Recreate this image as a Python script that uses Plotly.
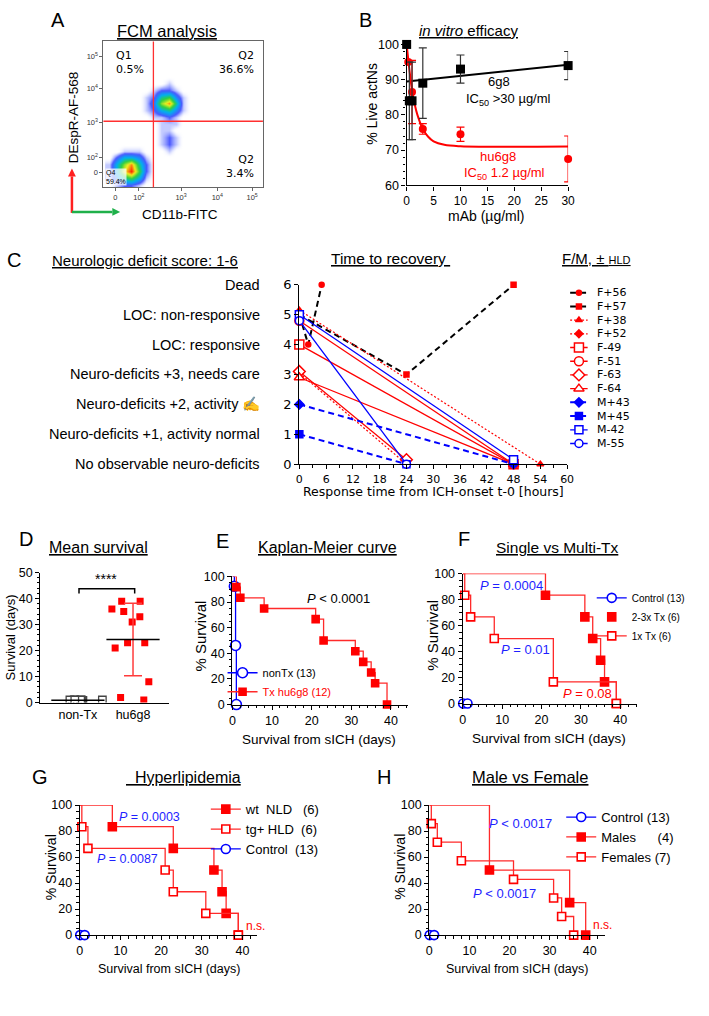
import numpy as np
import plotly.graph_objects as go

W, H = 709, 1016
ARIAL = 'Liberation Sans, Arial, sans-serif'
WIDE = 'DejaVu Sans, Verdana, sans-serif'
RED = '#ff0000'
KMRED = '#ff2a2a'
BLUE = '#0000ff'
PBLUE = '#1f1fff'

# ---------------- A: flow cytometry, decade units (10^2 -> 1, 10^3 -> 2 ...)
fcm_x = [0.2, 0.4, 0.6, 0.8, 1.0, 1.2, 1.4, 1.6, 1.8, 2.0, 2.2, 2.4, 2.6]
fcm_y = [0.2, 0.4, 0.6, 0.8, 1.0, 1.2, 1.4, 1.6, 1.8, 2.0, 2.2, 2.4, 2.6, 2.8, 3.0, 3.2, 3.4]
fcm_density = [
    [0, 1, 2, 2, 1, 0, 0, 0, 0, 0, 0, 0, 0],
    [1, 3, 5, 6, 4, 1, 0, 0, 0, 0, 0, 0, 0],
    [1, 4, 8, 10, 6, 2, 0, 0, 0, 0, 0, 0, 0],
    [1, 4, 7, 9, 5, 2, 0, 0, 0, 0, 0, 0, 0],
    [0, 2, 4, 4, 3, 1, 0, 0, 0, 0, 0, 0, 0],
    [0, 0, 1, 1, 1, 0, 0, 0, 1, 0, 0, 0, 0],
    [0, 0, 0, 0, 0, 0, 0, 1, 2, 1, 0, 0, 0],
    [0, 0, 0, 0, 0, 0, 0, 1, 2, 1, 0, 0, 0],
    [0, 0, 0, 0, 0, 0, 0, 1, 1, 0, 0, 0, 0],
    [0, 0, 0, 0, 0, 0, 0, 1, 1, 1, 0, 0, 0],
    [0, 0, 0, 0, 0, 0, 1, 1, 2, 1, 0, 0, 0],
    [0, 0, 0, 0, 0, 1, 2, 4, 5, 3, 1, 0, 0],
    [0, 0, 0, 0, 0, 1, 3, 7, 9, 5, 1, 0, 0],
    [0, 0, 0, 0, 0, 1, 2, 5, 6, 3, 1, 0, 0],
    [0, 0, 0, 0, 0, 0, 1, 2, 2, 1, 0, 0, 0],
    [0, 0, 0, 0, 0, 0, 0, 0, 1, 0, 0, 0, 0],
    [0, 0, 0, 0, 0, 0, 0, 0, 0, 0, 0, 0, 0],
]
fcm_gate_x = 1.39
fcm_gate_y = 2.08
fcm_xticks = [0.37, 1, 2.13, 3.1, 4.03]
fcm_yticks = [0.56, 1, 2.05, 3.04, 4.0]
fcm_ticktext = ['0', '10<sup>2</sup>', '10<sup>3</sup>', '10<sup>4</sup>', '10<sup>5</sup>']

# ---------------- B: in vitro efficacy
conc_6g8 = [0, 0.5, 1, 3, 10, 30]
live_6g8 = [100, 84, 84, 89, 93, 94]
err_6g8 = [0, 11, 11, 10, 4, 4]
conc_hu = [0, 0.3, 1, 3, 10, 30]
live_hu = [100, 95, 86.5, 76, 74.5, 67.5]
err_hu = [0, 0.5, 9, 1.5, 2, 6.5]
fit_6g8_x = [0, 30]
fit_6g8_y = [89.5, 94.2]
fit_hu_x = [0, 0.5, 1, 1.5, 2, 3, 4, 5, 7, 10, 30]
fit_hu_y = [100, 93, 87, 83, 80, 76, 73.8, 72.5, 71.5, 71.1, 71]

# ---------------- C: neurologic deficit score vs time
c_levels = ['No observable neuro-deficits', 'Neuro-deficits +1, activity normal',
            'Neuro-deficits +2, activity \u270d', 'Neuro-deficits +3, needs care',
            'LOC: responsive', 'LOC: non-responsive', 'Dead']
c_names = ['F+56', 'F+57', 'F+38', 'F+52', 'F-49', 'F-51', 'F-63', 'F-64',
           'M+43', 'M+45', 'M-42', 'M-55']
c_hours = [[0, 2, 5], [0, 24, 48], [0, 54], [0, 24], [0, 48], [0, 48], [0, 24], [0, 48],
           [0, 48], [0, 24], [0, 48], [0, 24]]
c_scores = [[5, 4, 6], [5, 3, 6], [5.15, 0], [3.05, 0], [4, 0], [4.8, 0], [3.1, 0.15], [2.9, 0],
            [2, 0], [1, 0], [5, 0.15], [4.8, 0]]

# ---------------- D-H: survival (days)
d_groups = ['non-Tx', 'hu6g8']
nontx_days = [0.5, 0.8, 0.8, 0.8, 0.8, 0.8, 0.8, 1.0, 1.0, 1.0, 1.0, 1.0, 1.0]
tx_days = [1, 2, 8, 21, 23, 23, 31, 33, 35, 36, 39, 39]
multi_days = [21, 31, 33, 35, 36, 39]
single_days = [0.5, 2, 8, 23, 23, 39]
nld_days = [8, 23, 33, 35, 36, 39]
hld_days = [0.5, 2, 21, 23, 31, 39]
male_days = [15, 15, 35, 39]
female_days = [0.5, 2, 8, 21, 31, 33, 36]
ctrl_days = [0.1, 1.2]
ctrl_surv = [0, 0]

# pixel boxes of the panels (left, right, top, bottom)
C_BOX = (300, 572, 282, 464)
CLEG_BOX = (575, 593, 283, 450)


def xd(a, b):
    return [a / W, b / W]


def yd(top, bottom):
    return [1 - bottom / H, 1 - top / H]


def label(x, y, s, size=13, color='black', anchor='center', angle=0, family=ARIAL, **kw):
    fig.add_annotation(x=x / W, y=1 - y / H, xref='paper', yref='paper', text=s, showarrow=False,
                       xanchor=anchor, yanchor='middle', textangle=angle,
                       font=dict(family=family, size=size, color=color), **kw)


def km(days):
    xs, ys = [0], [100.0]
    n, s = len(days), 100.0
    for t in sorted(set(days)):
        d = days.count(t)
        s = s * (n - d) / n
        n -= d
        xs.append(t)
        ys.append(s)
    return xs, ys


def add_km(days, ax, color, symbol, fill, name, legend, msize=8, lcolor=None, legmode='lines+markers'):
    xs, ys = km(days)
    lc = lcolor or color
    mk = dict(symbol=symbol, color=fill, line=dict(color=color, width=1.6))
    fig.add_trace(go.Scatter(x=xs, y=ys, mode='lines', line=dict(color=lc, width=1.3, shape='hv'),
                             xaxis='x' + ax, yaxis='y' + ax, showlegend=False, cliponaxis=False,
                             hoverinfo='skip'))
    fig.add_trace(go.Scatter(x=xs[1:], y=ys[1:], mode='markers', marker=dict(size=msize, **mk),
                             xaxis='x' + ax, yaxis='y' + ax, showlegend=False, cliponaxis=False))
    fig.add_trace(go.Scatter(x=[None], y=[None], mode=legmode, name=name, legend=legend,
                             line=dict(color=lc, width=1.3), marker=dict(size=msize, **mk),
                             xaxis='x' + ax, yaxis='y' + ax))


fig = go.Figure()

# ---- A
fcm_scale = [[0, 'rgba(255,255,255,0)'], [0.1, 'rgba(170,180,255,0.7)'], [0.2, '#4a58ff'],
             [0.4, '#00b0f0'], [0.6, '#30d040'], [0.8, '#f0f020'], [1, '#ff2000']]
fig.add_trace(go.Heatmap(x=fcm_x, y=fcm_y, z=fcm_density, zmin=0, zmax=10, zsmooth='best',
                         colorscale=fcm_scale, showscale=False, hoverinfo='skip', xaxis='x', yaxis='y'))
fig.add_shape(type='line', xref='x', yref='y domain', x0=fcm_gate_x, x1=fcm_gate_x, y0=0, y1=1,
              line=dict(color='#ff3030', width=1.3))
fig.add_shape(type='line', xref='x domain', yref='y', x0=0, x1=1, y0=fcm_gate_y, y1=fcm_gate_y,
              line=dict(color='#ff3030', width=1.3))

# ---- B
fig.add_trace(go.Scatter(x=fit_6g8_x, y=fit_6g8_y, mode='lines', line=dict(color='black', width=2),
                         xaxis='x2', yaxis='y2', showlegend=False))
fig.add_trace(go.Scatter(x=fit_hu_x, y=fit_hu_y, mode='lines', line=dict(color=RED, width=2, shape='spline'),
                         xaxis='x2', yaxis='y2', showlegend=False))
fig.add_trace(go.Scatter(x=conc_hu, y=live_hu, mode='markers', marker=dict(symbol='circle', size=8, color=RED),
                         error_y=dict(type='data', array=err_hu, color=RED, thickness=1.2, width=4),
                         xaxis='x2', yaxis='y2', showlegend=False, cliponaxis=False))
fig.add_trace(go.Scatter(x=conc_6g8, y=live_6g8, mode='markers', marker=dict(symbol='square', size=9, color='black'),
                         error_y=dict(type='data', array=err_6g8, color='#333', thickness=1.2, width=4),
                         xaxis='x2', yaxis='y2', showlegend=False, cliponaxis=False))

# ---- C
c_styles = [
    dict(lc='black', dash='6px,4px', lw=2, sym='circle', mc=RED, ml=RED, ms=5),
    dict(lc='black', dash='6px,4px', lw=2, sym='square', mc=RED, ml=RED, ms=5),
    dict(lc=RED, dash='2px,2px', lw=1.2, sym='triangle-up', mc=RED, ml=RED, ms=6),
    dict(lc=RED, dash='2px,2px', lw=1.2, sym='diamond', mc=RED, ml=RED, ms=6),
    dict(lc=RED, dash='solid', lw=1.3, sym='square', mc='white', ml=RED, ms=9),
    dict(lc=RED, dash='solid', lw=1.3, sym='circle', mc='white', ml=RED, ms=9),
    dict(lc=RED, dash='solid', lw=1.3, sym='diamond', mc='white', ml=RED, ms=9),
    dict(lc=RED, dash='solid', lw=1.3, sym='triangle-up', mc='white', ml=RED, ms=9),
    dict(lc=BLUE, dash='6px,4px', lw=2, sym='diamond', mc=BLUE, ml=BLUE, ms=7),
    dict(lc=BLUE, dash='6px,4px', lw=2, sym='square', mc=BLUE, ml=BLUE, ms=7),
    dict(lc=BLUE, dash='solid', lw=1.3, sym='square', mc='white', ml=BLUE, ms=8),
    dict(lc=BLUE, dash='solid', lw=1.3, sym='circle', mc='white', ml=BLUE, ms=8),
]
leg_row = (CLEG_BOX[3] - CLEG_BOX[2]) / len(c_names)
for i, name in enumerate(c_names):
    st = c_styles[i]
    mk = dict(symbol=st['sym'], size=st['ms'], color=st['mc'], line=dict(color=st['ml'], width=1.5))
    fig.add_trace(go.Scatter(x=c_hours[i], y=c_scores[i], mode='lines+markers', name=name,
                             line=dict(color=st['lc'], width=st['lw'], dash=st['dash']), marker=mk,
                             xaxis='x3', yaxis='y3', showlegend=False, cliponaxis=False))
    # hand-made legend row
    fig.add_trace(go.Scatter(x=[0, 1], y=[i, i], mode='lines', line=dict(color=st['lc'], width=st['lw'], dash=st['dash']),
                             xaxis='x9', yaxis='y9', showlegend=False, hoverinfo='skip'))
    fig.add_trace(go.Scatter(x=[0.5], y=[i], mode='markers', marker=mk,
                             xaxis='x9', yaxis='y9', showlegend=False, hoverinfo='skip'))
    label(600, CLEG_BOX[2] + (i + 0.5) * leg_row, name, size=11, anchor='left', family=WIDE)
c_step = (C_BOX[3] - C_BOX[2]) / (len(c_levels) - 1)
for lvl, txt in enumerate(c_levels):
    label(262, C_BOX[3] - lvl * c_step, txt, size=14.5, anchor='right')

# ---- D
fig.add_trace(go.Box(x=[0] * len(nontx_days), y=nontx_days, boxpoints='all', jitter=1, pointpos=0, width=1.4,
                     fillcolor='rgba(0,0,0,0)', line=dict(width=0, color='rgba(0,0,0,0)'),
                     marker=dict(symbol='square', size=7.5, color='white', line=dict(color='#444', width=1.3)),
                     xaxis='x4', yaxis='y4', showlegend=False))
fig.add_trace(go.Box(x=[1] * len(tx_days), y=tx_days, boxpoints='all', jitter=1, pointpos=0, width=1.25,
                     fillcolor='rgba(0,0,0,0)', line=dict(width=0, color='rgba(0,0,0,0)'),
                     marker=dict(symbol='square', size=7, color=RED),
                     xaxis='x4', yaxis='y4', showlegend=False))
fig.add_trace(go.Scatter(x=[1], y=[np.mean(tx_days)], mode='markers',
                         marker=dict(symbol='line-ew', size=38, line=dict(color='black', width=1.5)),
                         error_y=dict(type='data', array=[np.std(tx_days, ddof=1)], color='#ff3b3b', thickness=1.5, width=9),
                         xaxis='x4', yaxis='y4', showlegend=False))
fig.add_trace(go.Scatter(x=[0], y=[np.mean(nontx_days)], mode='markers',
                         marker=dict(symbol='line-ew', size=38, line=dict(color='black', width=1.5)),
                         xaxis='x4', yaxis='y4', showlegend=False, cliponaxis=False))
fig.add_shape(type='path', xref='x4', yref='y4', path='M 0.02,41.9 L 0.02,43.8 L 1.03,43.8 L 1.03,41.9',
              line=dict(color='black', width=1.5))
label(104, 581, '****', size=14)

# ---- E
add_km(nontx_days, '5', BLUE, 'circle', 'white', 'nonTx (13)', 'legend', msize=10)
add_km(tx_days, '5', RED, 'square', RED, '<span style="color:#ff0000">Tx hu6g8 (12)</span>', 'legend',
       msize=7, lcolor=KMRED)

# ---- F
fig.add_trace(go.Scatter(x=ctrl_days, y=ctrl_surv, mode='markers',
                         marker=dict(symbol='circle', size=9, color='white', line=dict(color=BLUE, width=1.6)),
                         xaxis='x6', yaxis='y6', cliponaxis=False, showlegend=False))
fig.add_trace(go.Scatter(x=[None], y=[None], mode='lines+markers', name='Control (13)', legend='legend2',
                         line=dict(color=BLUE, width=1.3),
                         marker=dict(symbol='circle', size=9, color='white', line=dict(color=BLUE, width=1.6)),
                         xaxis='x6', yaxis='y6'))
add_km(multi_days, '6', RED, 'square', RED, '2-3x Tx (6)', 'legend2', lcolor=KMRED, legmode='markers')
add_km(single_days, '6', RED, 'square', 'white', '1x Tx (6)', 'legend2', lcolor=KMRED)

# ---- G
add_km(nld_days, '7', RED, 'square', RED, 'wt\u00a0\u00a0NLD\u00a0\u00a0\u00a0(6)', 'legend3', lcolor=KMRED)
add_km(hld_days, '7', RED, 'square', 'white', 'tg+\u00a0HLD\u00a0\u00a0(6)', 'legend3', lcolor=KMRED)
fig.add_trace(go.Scatter(x=ctrl_days, y=ctrl_surv, mode='markers',
                         marker=dict(symbol='circle', size=9, color='white', line=dict(color=BLUE, width=1.6)),
                         xaxis='x7', yaxis='y7', cliponaxis=False, showlegend=False))
fig.add_trace(go.Scatter(x=[None], y=[None], mode='lines+markers', name='Control\u00a0\u00a0(13)', legend='legend3',
                         line=dict(color=BLUE, width=1.3),
                         marker=dict(symbol='circle', size=9, color='white', line=dict(color=BLUE, width=1.6)),
                         xaxis='x7', yaxis='y7'))

# ---- H
fig.add_trace(go.Scatter(x=ctrl_days, y=ctrl_surv, mode='markers',
                         marker=dict(symbol='circle', size=9, color='white', line=dict(color=BLUE, width=1.6)),
                         xaxis='x8', yaxis='y8', cliponaxis=False, showlegend=False))
fig.add_trace(go.Scatter(x=[None], y=[None], mode='lines+markers', name='Control (13)', legend='legend4',
                         line=dict(color=BLUE, width=1.3),
                         marker=dict(symbol='circle', size=9, color='white', line=dict(color=BLUE, width=1.6)),
                         xaxis='x8', yaxis='y8'))
add_km(male_days, '8', RED, 'square', RED, 'Males\u00a0\u00a0\u00a0\u00a0\u00a0\u00a0(4)', 'legend4', lcolor=KMRED)
add_km(female_days, '8', RED, 'square', 'white', 'Females (7)', 'legend4', lcolor=KMRED)


def axis(dom, rng, anchor, **kw):
    d = dict(domain=dom, range=rng, anchor=anchor, showline=True, linecolor='black', linewidth=1.4,
             ticks='outside', ticklen=4, tickwidth=1.2, tickcolor='black', showgrid=False, zeroline=False,
             tickfont=dict(family=ARIAL, size=12.5, color='black'))
    d.update(kw)
    return d


def minor(dt):
    return dict(ticks='outside', ticklen=2.5, dtick=dt, tickcolor='black', tickwidth=1)


fcm_ax = dict(linecolor='#666', linewidth=1, mirror=True, ticklen=3, tickcolor='#666', ticktext=fcm_ticktext,
              tickfont=dict(family=ARIAL, size=7.5, color='#333'))


def km_x(dom, rng, anchor):
    return axis(dom, rng, anchor, dtick=10, tick0=0, minor=minor(2))


def km_y(dom, anchor):
    return axis(dom, [0, 100], anchor, dtick=20, tick0=0, minor=minor(5))


def legend_cfg(xpx, ypx, size):
    return dict(x=xpx / W, y=1 - ypx / H, xanchor='left', yanchor='top', bgcolor='rgba(0,0,0,0)',
                font=dict(family=ARIAL, size=size, color='black'), itemwidth=30, tracegroupgap=0,
                itemclick=False, itemdoubleclick=False)


fig.update_layout(
    width=W, height=H, margin=dict(l=0, r=0, t=0, b=0),
    paper_bgcolor='white', plot_bgcolor='white', showlegend=True,
    xaxis=axis(xd(101, 263), [0.053, 4.32], 'y', tickvals=fcm_xticks, **fcm_ax),
    yaxis=axis(yd(35, 183), [0.125, 4.44], 'x', tickvals=fcm_yticks, **fcm_ax),
    xaxis2=axis(xd(409, 573), [0, 30], 'y2', dtick=5, tick0=0, tickfont=dict(family=ARIAL, size=12, color='black')),
    yaxis2=axis(yd(38, 181), [60, 100], 'x2', dtick=10, tick0=60, minor=minor(2)),
    xaxis3=axis(xd(C_BOX[0], C_BOX[1]), [0, 60], 'y3', dtick=6, tick0=0, minor=minor(3),
                tickfont=dict(family=WIDE, size=11, color='black')),
    yaxis3=axis(yd(C_BOX[2], C_BOX[3]), [0, 6], 'x3', dtick=1, tick0=0,
                tickfont=dict(family=WIDE, size=13, color='black')),
    xaxis4=axis(xd(37, 168), [-0.68, 1.66], 'y4', tickvals=[0, 1], ticktext=d_groups, ticks=''),
    yaxis4=axis(yd(574, 706), [0, 50], 'x4', dtick=10, tick0=0, minor=minor(2)),
    xaxis5=km_x(xd(232, 410), [0, 44.2], 'y5'),
    yaxis5=km_y(yd(578, 708), 'x5'),
    xaxis6=km_x(xd(466, 643), [0, 44.25], 'y6'),
    yaxis6=km_y(yd(575, 707), 'x6'),
    xaxis7=km_x(xd(77, 257), [0, 43.6], 'y7'),
    yaxis7=km_y(yd(810, 942), 'x7'),
    xaxis8=km_x(xd(432, 610), [0, 43.7], 'y8'),
    yaxis8=km_y(yd(810, 942), 'x8'),
    xaxis9=dict(domain=xd(CLEG_BOX[0], CLEG_BOX[1]), range=[0, 1], anchor='y9', visible=False),
    yaxis9=dict(domain=yd(CLEG_BOX[2], CLEG_BOX[3]), range=[len(c_names) - 0.5, -0.5], anchor='x9', visible=False),
    legend=legend_cfg(222, 661, 11),
    legend2=legend_cfg(597, 585, 10),
    legend3=legend_cfg(205, 799, 13),
    legend4=legend_cfg(566, 807, 13),
)

# panel letters and titles
for s, x, y in [('A', 55, 13), ('B', 367, 13), ('C', 10, 257), ('D', 22, 540), ('E', 222, 542),
                ('F', 467, 540), ('G', 37, 782), ('H', 386, 782)]:
    label(x, y, s, size=20)
label(166, 24, '<u>FCM analysis</u>', size=16.5)
label(472, 24, '<u><i>in vitro</i> efficacy</u>', size=15)
label(143, 257, '<u>Neurologic deficit score: 1-6</u>', size=15)
label(393, 255, '<u>Time to recovery\u00a0</u>', size=15.5)
label(602, 255, '<u>F/M, \u00b1 <span style="font-size:11px">HLD</span></u>', size=15)
label(96, 549, '<u>Mean survival</u>', size=16)
label(329, 549, '<u>Kaplan-Meier curve</u>', size=16)
label(562, 549, '<u>Single vs Multi-Tx</u>', size=15.5)
label(182, 782, '<u>\u00a0\u00a0Hyperlipidemia</u>', size=16)
label(534, 782, '<u>Male vs Female</u>', size=16.5)

# A texts and colour-coded axis arrows
label(70, 112, 'DEspR-AF-568', size=13.5, angle=-90)
label(179, 211, 'CD11b-FITC', size=13.5)
label(112, 56, 'Q1<br>0.5%', size=11, anchor='left', family=WIDE, align='left')
label(256, 56, 'Q2<br>36.6%', size=11, anchor='right', family=WIDE, align='right')
label(256, 162, 'Q2<br>3.4%', size=11, anchor='right', family=WIDE, align='right')
label(103, 173, 'Q4<br>59.4%', size=7, anchor='left', align='left', bgcolor='rgba(255,255,255,0.75)', borderpad=0)
fig.add_shape(type='line', xref='paper', yref='paper', x0=69 / W, x1=69 / W, y0=1 - 209 / H, y1=1 - 172 / H,
              line=dict(color='#ff2020', width=2.5))
fig.add_shape(type='path', xref='paper', yref='paper', fillcolor='#ff2020', line=dict(width=0),
              path=f'M {65 / W},{1 - 172 / H} L {73 / W},{1 - 172 / H} L {69 / W},{1 - 164 / H} Z')
fig.add_shape(type='line', xref='paper', yref='paper', x0=69 / W, x1=110 / W, y0=1 - 208 / H, y1=1 - 208 / H,
              line=dict(color='#1fb04a', width=2.5))
fig.add_shape(type='path', xref='paper', yref='paper', fillcolor='#1fb04a', line=dict(width=0),
              path=f'M {110 / W},{1 - 204 / H} L {110 / W},{1 - 212 / H} L {118 / W},{1 - 208 / H} Z')

# B texts
label(373, 98, '% Live actNs', size=14, angle=-90)
label(490, 212, 'mAb (\u00b5g/ml)', size=14)
label(503, 76, '6g8', size=13)
label(512, 94, 'IC<sub>50</sub> &gt;30 \u00b5g/ml', size=13)
label(502, 152, 'hu6g8', size=13, color=RED)
label(508, 169, 'IC<sub>50</sub> 1.2 \u00b5g/ml', size=13, color=RED)

# C texts
label(436, 492, 'Response time from ICH-onset t-0 [hours]', size=12.5, family=WIDE)

# D-H axis titles and p-values
label(7, 640, 'Survival (days)', size=13, angle=-90)
label(200, 638, '% Survival', size=15, angle=-90)
label(320, 743, 'Survival from sICH (days)', size=13.5)
label(435, 638, '% Survival', size=15, angle=-90)
label(554, 742, 'Survival from sICH (days)', size=13.5)
label(48, 873, '% Survival', size=14, angle=-90)
label(168, 976, 'Survival from sICH (days)', size=12.5)
label(402, 873, '% Survival', size=14, angle=-90)
label(521, 976, 'Survival from sICH (days)', size=12.5)

label(340, 600, '<i>P</i> &lt; 0.0001', size=13)
label(515, 587, '<i>P</i> = 0.0004', size=13, color=PBLUE)
label(530, 652, '<i>P</i> = 0.01', size=13, color=PBLUE)
label(593, 697, '<i>P</i> = 0.08', size=13, color=RED)
label(148, 822, '<i>P</i> = 0.0003', size=12.5, color=PBLUE)
label(125, 865, '<i>P</i> = 0.0087', size=12.5, color=PBLUE)
label(255, 933, 'n.s.', size=12, color=RED)
label(525, 829, '<i>P</i> &lt; 0.0017', size=13, color=PBLUE)
label(508, 900, '<i>P</i> &lt; 0.0017', size=13, color=PBLUE)
label(608, 932, 'n.s.', size=12, color=RED)

# the page's default body margin would push the 709x1016 figure past the window
fig.write_html("out.html", config={'displayModeBar': False},
               post_script="document.body.style.margin='0';document.body.style.overflow='hidden';")
